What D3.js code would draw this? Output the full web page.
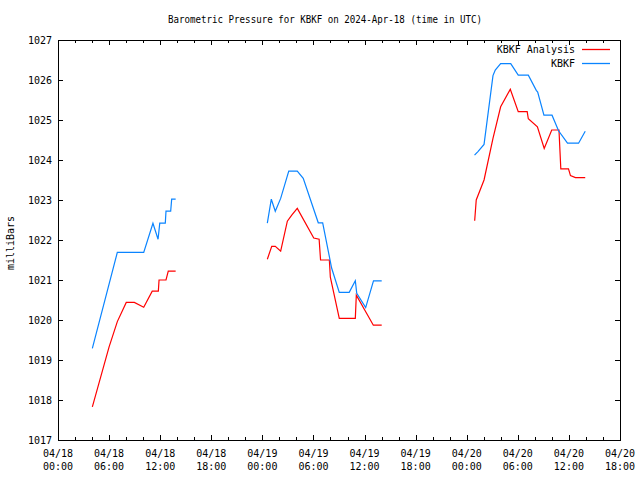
<!DOCTYPE html>
<html>
<head>
<meta charset="utf-8">
<script src="https://cdn.jsdelivr.net/npm/d3@7"></script>
<style>
  html, body { margin: 0; padding: 0; background: #fff; }
  text { font-family: "DejaVu Sans Mono", "Liberation Mono", monospace; font-size: 10px; fill: #000; }
</style>
</head>
<body>
<svg id="chart" width="640" height="480"></svg>
<script>
// ---------- DATA ----------
const chartTitle = "Barometric Pressure for KBKF on 2024-Apr-18 (time in UTC)";
const yAxisLabel = "milliBars";
const seriesNames = ["KBKF Analysis", "KBKF"];
const yTicks = [1017, 1018, 1019, 1020, 1021, 1022, 1023, 1024, 1025, 1026, 1027];
const xTickDates = ["04/18","04/18","04/18","04/18","04/19","04/19","04/19","04/19","04/20","04/20","04/20","04/20"];
const xTickTimes = ["00:00","06:00","12:00","18:00","00:00","06:00","12:00","18:00","00:00","06:00","12:00","18:00"];

// KBKF Analysis (red); null marks a gap
const analysisTimes = [
  "2024-04-18T04:02Z","2024-04-18T06:00Z","2024-04-18T06:58Z","2024-04-18T08:01Z","2024-04-18T08:58Z",
  "2024-04-18T10:04Z","2024-04-18T11:04Z","2024-04-18T11:47Z","2024-04-18T11:52Z","2024-04-18T12:41Z",
  "2024-04-18T12:57Z","2024-04-18T13:49Z",
  "2024-04-18T19:00Z",
  "2024-04-19T00:35Z","2024-04-19T01:06Z","2024-04-19T01:31Z","2024-04-19T02:09Z","2024-04-19T02:56Z",
  "2024-04-19T03:27Z","2024-04-19T04:06Z","2024-04-19T06:02Z","2024-04-19T06:40Z","2024-04-19T06:50Z",
  "2024-04-19T07:52Z","2024-04-19T07:59Z","2024-04-19T09:02Z","2024-04-19T10:55Z","2024-04-19T11:02Z",
  "2024-04-19T13:02Z","2024-04-19T14:01Z",
  "2024-04-19T19:00Z",
  "2024-04-20T00:56Z","2024-04-20T01:07Z","2024-04-20T02:02Z","2024-04-20T03:05Z","2024-04-20T03:59Z",
  "2024-04-20T05:07Z","2024-04-20T06:03Z","2024-04-20T07:06Z","2024-04-20T07:14Z","2024-04-20T08:18Z",
  "2024-04-20T09:06Z","2024-04-20T09:59Z","2024-04-20T10:50Z","2024-04-20T11:03Z","2024-04-20T11:57Z",
  "2024-04-20T12:11Z","2024-04-20T12:46Z","2024-04-20T13:55Z"
];
const analysisValues = [
  1017.83, 1019.33, 1019.96, 1020.44, 1020.44,
  1020.32, 1020.72, 1020.72, 1021.00, 1021.00,
  1021.22, 1021.22,
  null,
  1021.52, 1021.84, 1021.84, 1021.72, 1022.47,
  1022.62, 1022.79, 1022.05, 1022.02, 1021.50,
  1021.50, 1021.07, 1020.04, 1020.04, 1020.62,
  1019.87, 1019.87,
  null,
  1022.48, 1023.00, 1023.50, 1024.54, 1025.33,
  1025.77, 1025.21, 1025.21, 1025.03, 1024.83,
  1024.29, 1024.75, 1024.75, 1023.78, 1023.78,
  1023.61, 1023.56, 1023.56
];

// KBKF observed (blue)
const kbkfTimes = [
  "2024-04-18T04:02Z","2024-04-18T06:58Z","2024-04-18T10:04Z","2024-04-18T11:09Z","2024-04-18T11:45Z",
  "2024-04-18T11:57Z","2024-04-18T12:36Z","2024-04-18T12:41Z","2024-04-18T13:14Z","2024-04-18T13:21Z",
  "2024-04-18T13:49Z",
  "2024-04-18T19:00Z",
  "2024-04-19T00:35Z","2024-04-19T01:03Z","2024-04-19T01:31Z","2024-04-19T02:09Z","2024-04-19T03:06Z",
  "2024-04-19T04:06Z","2024-04-19T04:48Z","2024-04-19T06:34Z","2024-04-19T07:05Z","2024-04-19T08:08Z",
  "2024-04-19T09:02Z","2024-04-19T10:12Z","2024-04-19T10:55Z","2024-04-19T11:05Z","2024-04-19T12:08Z",
  "2024-04-19T13:03Z","2024-04-19T14:01Z",
  "2024-04-19T19:00Z",
  "2024-04-20T00:55Z","2024-04-20T01:19Z","2024-04-20T02:02Z","2024-04-20T03:05Z","2024-04-20T03:21Z",
  "2024-04-20T03:59Z","2024-04-20T05:10Z","2024-04-20T06:03Z","2024-04-20T07:14Z","2024-04-20T08:10Z",
  "2024-04-20T08:20Z","2024-04-20T09:04Z","2024-04-20T10:01Z","2024-04-20T10:47Z","2024-04-20T11:50Z",
  "2024-04-20T13:08Z","2024-04-20T13:55Z"
];
const kbkfValues = [
  1019.29, 1021.69, 1021.69, 1022.42, 1022.02,
  1022.42, 1022.42, 1022.72, 1022.72, 1023.02,
  1023.02,
  null,
  1022.42, 1023.02, 1022.72, 1023.04, 1023.72,
  1023.72, 1023.54, 1022.43, 1022.43, 1021.30,
  1020.69, 1020.69, 1020.98, 1020.67, 1020.31,
  1020.98, 1020.98,
  null,
  1024.12, 1024.21, 1024.39, 1026.11, 1026.25,
  1026.41, 1026.41, 1026.12, 1026.12, 1025.74,
  1025.70, 1025.12, 1025.12, 1024.73, 1024.42,
  1024.42, 1024.72
];

const seriesColors = ["#ff0000", "#0a84ff"];

// ---------- LAYOUT ----------
const svg = d3.select("#chart");
const mLeft = 58, mRight = 620, mTop = 40, mBottom = 440;

const xStart = new Date("2024-04-18T00:00Z");
const xEnd = new Date("2024-04-20T18:00Z");
const x = d3.scaleUtc().domain([xStart, xEnd]).range([mLeft, mRight]);
const y = d3.scaleLinear().domain([1017, 1027]).range([mBottom, mTop]);

const g = svg.append("g");

// frame
g.append("rect")
  .attr("x", mLeft + 0.5).attr("y", mTop + 0.5)
  .attr("width", mRight - mLeft).attr("height", mBottom - mTop)
  .attr("fill", "none").attr("stroke", "#000").attr("stroke-width", 1)
  .attr("shape-rendering", "crispEdges");

// x ticks: every 2 hours, majors every 6 hours
const xTickVals = d3.utcHour.every(2).range(xStart, new Date(+xEnd + 1));
const ticksG = g.append("g").attr("stroke", "#000").attr("shape-rendering", "crispEdges");
xTickVals.forEach(d => {
  const isMajor = d.getUTCHours() % 6 === 0;
  const len = isMajor ? 5 : 3;
  const px = Math.round(x(d)) + 0.5;
  ticksG.append("line").attr("x1", px).attr("x2", px).attr("y1", mBottom).attr("y2", mBottom - len);
  ticksG.append("line").attr("x1", px).attr("x2", px).attr("y1", mTop).attr("y2", mTop + len);
});

// y ticks
yTicks.forEach(v => {
  const py = Math.round(y(v)) + 0.5;
  ticksG.append("line").attr("x1", mLeft).attr("x2", mLeft + 5).attr("y1", py).attr("y2", py);
  ticksG.append("line").attr("x1", mRight - 5).attr("x2", mRight).attr("y1", py).attr("y2", py);
});

// y tick labels
g.append("g").selectAll("text").data(yTicks).join("text")
  .attr("x", 52).attr("y", d => y(d) + 3.5)
  .attr("text-anchor", "end")
  .text(d => d);

// x tick labels
const xMajor = d3.utcHour.every(6).range(xStart, new Date(+xEnd + 1));
const xl = g.append("g");
xMajor.forEach((d, i) => {
  xl.append("text").attr("x", x(d)).attr("y", 457).attr("text-anchor", "middle").text(xTickDates[i]);
  xl.append("text").attr("x", x(d)).attr("y", 470).attr("text-anchor", "middle").text(xTickTimes[i]);
});

// title (narrower glyphs than the axis labels)
svg.append("text").attr("x", 168).attr("y", 23)
  .attr("textLength", 314).attr("lengthAdjust", "spacingAndGlyphs")
  .text(chartTitle);

// y label
svg.append("text").attr("transform", "translate(14,243) rotate(-90)")
  .attr("text-anchor", "middle").text(yAxisLabel);

// lines
function makeData(times, values) {
  return times.map((t, i) => ({ t: new Date(t), v: values[i] }));
}
const line = d3.line()
  .defined(d => d.v !== null)
  .x(d => x(d.t))
  .y(d => y(d.v));

const allSeries = [makeData(analysisTimes, analysisValues), makeData(kbkfTimes, kbkfValues)];
allSeries.forEach((data, i) => {
  g.append("path").datum(data)
    .attr("fill", "none")
    .attr("stroke", seriesColors[i])
    .attr("stroke-width", 1.2)
    .attr("d", line);
});

// legend
seriesNames.forEach((name, i) => {
  const ly = 49 + i * 14;
  svg.append("text").attr("x", 575).attr("y", ly + 3.5).attr("text-anchor", "end").text(name);
  svg.append("path").attr("d", `M582,${ly + 0.5}H610`)
    .attr("fill", "none")
    .attr("stroke", seriesColors[i]).attr("stroke-width", 1.3);
});
</script>
</body>
</html>
